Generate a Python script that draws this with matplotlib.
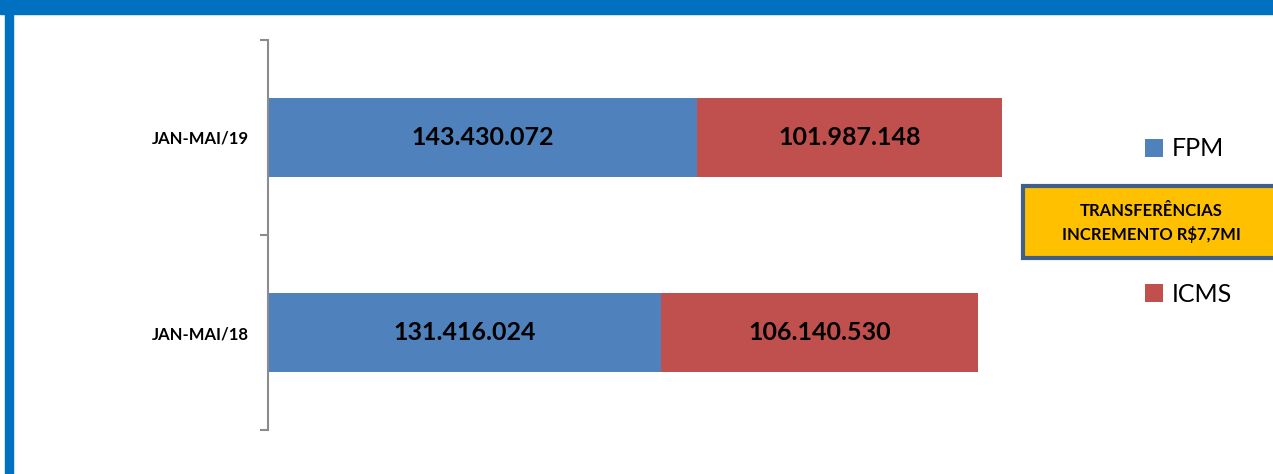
import matplotlib
matplotlib.use("Agg")
from matplotlib import pyplot as plt
from matplotlib.patches import Rectangle, FancyBboxPatch

# dados
periodos = ["JAN-MAI/18", "JAN-MAI/19"]
fpm = [131416024, 143430072]
icms = [106140530, 101987148]
nomes = ["FPM", "ICMS"]
cores = ["#4F81BD", "#C0504D"]

def fmt(v):
    return f"{v:,}".replace(",", ".")

W, H = 1273, 474
fig = plt.figure(figsize=(W / 100, H / 100), dpi=100)
fig.patch.set_facecolor("white")

# moldura azul
fig.patches.append(Rectangle((0, 1 - 14 / H), 1, 14 / H, transform=fig.transFigure,
                             color="#0070C0", zorder=0))
fig.patches.append(Rectangle((5 / W, 0), 8 / W, 1, transform=fig.transFigure,
                             color="#0070C0", zorder=0))

ax = fig.add_axes([268 / W, 44 / H, 752 / W, 390 / H])
ax.set_facecolor("none")
px = 734 / 245.42e6
ax.set_xlim(0, 752 / px)
ax.set_ylim(-0.5, 1.5)

y = range(len(periodos))
h = 79 / 195
b1 = ax.barh(y, fpm, height=h, color=cores[0], label=nomes[0])
b2 = ax.barh(y, icms, left=fpm, height=h, color=cores[1], label=nomes[1])
for bars, vals in ((b1, fpm), (b2, icms)):
    ax.bar_label(bars, labels=[fmt(v) for v in vals], label_type="center",
                 fontsize=18, fontweight="bold", family="Lato", color="black")

for s in ("top", "right", "bottom"):
    ax.spines[s].set_visible(False)
ax.spines["left"].set_color("#8C8C8C")
ax.spines["left"].set_linewidth(1.5)
ax.set_xticks([])
ax.set_yticks([-0.5, 0.5, 1.5])
ax.set_yticklabels([])
ax.tick_params(axis="y", which="major", length=6, width=1.5, color="#8C8C8C")
ax.set_yticks(list(y), minor=True)
ax.set_yticklabels(periodos, minor=True, fontsize=12, fontweight="bold", family="Lato")
ax.tick_params(axis="y", which="minor", length=0, pad=14)

# legenda
fig.legend(handles=[b1], labels=[nomes[0]], loc="center left",
           bbox_to_anchor=(1122 / W, 1 - 149 / H), frameon=False,
           prop={"family": "Lato", "size": 18}, handlelength=0.75, handleheight=0.75,
           handletextpad=0.35)
fig.legend(handles=[b2], labels=[nomes[1]], loc="center left",
           bbox_to_anchor=(1122 / W, 1 - 294 / H), frameon=False,
           prop={"family": "Lato", "size": 18}, handlelength=0.75, handleheight=0.75,
           handletextpad=0.35)

# caixa de destaque
fig.patches.append(FancyBboxPatch((1023 / W, 1 - 258 / H), 260 / W, 72 / H,
                                  boxstyle="square,pad=0", transform=fig.transFigure,
                                  facecolor="#FFC000", edgecolor="#3F5F8A", linewidth=3))
fig.text(1151 / W, 1 - 223 / H, "TRANSFERÊNCIAS\nINCREMENTO R$7,7MI", ha="center",
         va="center", fontsize=12, fontweight="bold", family="Lato", linespacing=1.55)

fig.savefig("out.png", dpi=100)
